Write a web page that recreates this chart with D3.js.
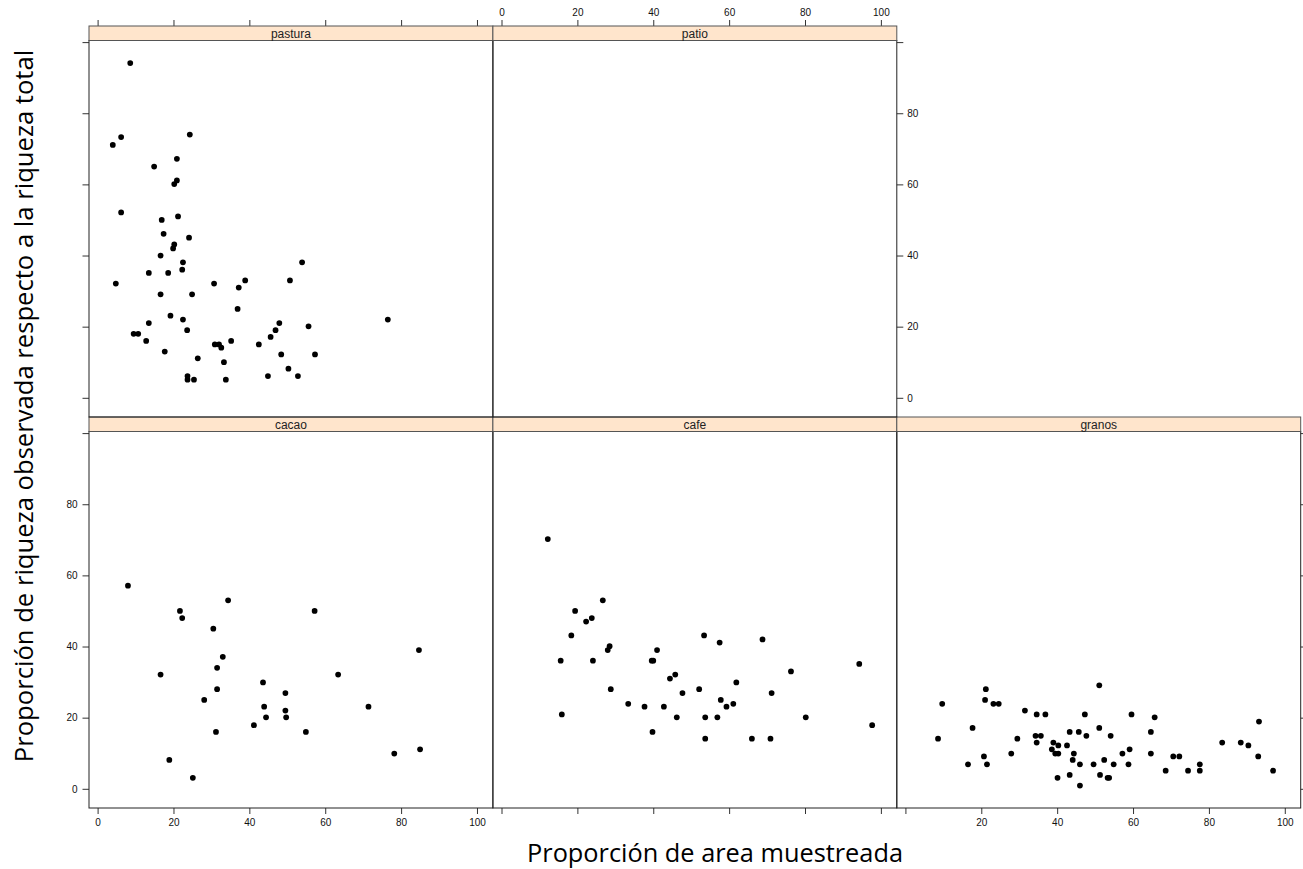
<!DOCTYPE html>
<html>
<head>
<meta charset="utf-8">
<script src="https://d3js.org/d3.v7.min.js"></script>
<style>
  body { margin: 0; background: #fff; }
  svg { display: block; }
  .tick text { font-family: "Liberation Sans", Arial, sans-serif; font-size: 10px; fill: #111; }
  .tick line { stroke: #333; }
</style>
</head>
<body>
<div class="vis"></div>
<script>
  // panels, in lattice order (bottom row first)
  var panelNames = ["cacao", "cafe", "granos", "pastura", "patio"];

  var pasturaX = [8.6, 6.2, 4.0, 24.3, 20.9, 14.9, 20.9, 20.2, 6.2, 21.2, 16.9, 17.4, 24.1, 20.2, 19.9,
    16.6, 22.5, 53.9, 13.5, 18.6, 22.3, 4.8, 30.7, 38.9, 37.2, 50.7, 16.6, 24.9, 36.9, 19.2, 22.5,
    76.5, 13.5, 47.9, 55.6, 9.5, 10.7, 23.6, 46.9, 45.6, 12.8, 35.2, 30.9, 32.0, 32.6, 42.5, 17.7,
    48.4, 57.3, 26.4, 33.3, 50.3, 23.7, 44.9, 52.8, 23.7, 25.4, 33.8];
  var pasturaY = [94.1, 73.3, 71.1, 74.0, 67.2, 65.0, 61.1, 60.1, 52.1, 51.0, 50.0, 46.1, 45.0, 43.1, 42.0,
    40.0, 38.1, 38.1, 35.1, 35.1, 36.0, 32.1, 32.1, 33.0, 31.0, 33.0, 29.1, 29.1, 25.0, 23.1, 22.0,
    22.0, 21.0, 21.0, 20.1, 18.0, 18.0, 19.0, 19.0, 17.1, 16.0, 16.0, 15.0, 15.0, 14.1, 15.0, 13.0,
    12.2, 12.2, 11.1, 10.0, 8.2, 6.1, 6.1, 6.1, 5.1, 5.1, 5.1];

  var patioX = [];
  var patioY = [];

  var cacaoX = [8.0, 34.4, 21.7, 57.2, 22.3, 30.5, 84.7, 33.0, 16.6, 63.4, 31.5, 43.6, 31.5, 49.5,
    28.1, 43.9, 71.4, 49.5, 44.4, 49.7, 41.2, 31.2, 54.9, 85.0, 78.2, 18.9, 25.1];
  var cacaoY = [57.1, 53.0, 50.0, 50.0, 48.0, 45.0, 39.0, 37.1, 32.1, 32.1, 34.0, 29.9, 28.0, 26.9,
    25.0, 23.1, 23.1, 22.0, 20.1, 20.1, 17.9, 16.0, 16.0, 11.1, 9.9, 8.1, 3.1];

  var cafeX = [12.2, 26.7, 19.4, 23.8, 22.3, 18.4, 53.4, 68.8, 57.5, 28.5, 28.0, 41.0, 15.6, 24.1,
    39.6, 40.0, 94.3, 76.3, 45.8, 44.4, 61.9, 28.8, 52.1, 47.7, 71.2, 33.4, 57.8, 61.1, 37.7, 42.8,
    59.3, 15.9, 46.2, 53.7, 56.9, 80.2, 97.7, 39.8, 53.7, 66.0, 70.9];
  var cafeY = [70.2, 53.0, 50.0, 48.0, 47.0, 43.1, 43.1, 42.0, 41.1, 40.1, 39.0, 39.0, 36.0, 36.0,
    36.0, 36.0, 35.1, 33.0, 32.1, 31.0, 29.9, 28.0, 28.0, 26.9, 26.9, 23.9, 25.0, 23.9, 23.1, 23.1,
    23.1, 20.9, 20.1, 20.1, 20.1, 20.1, 17.9, 16.0, 14.1, 14.1, 14.1];

  var granosX = [51.1, 21.2, 9.7, 21.0, 23.2, 24.6, 31.5, 34.6, 36.9, 47.3, 59.6, 65.7, 93.2, 17.7,
    51.1, 8.6, 29.5, 34.3, 35.7, 43.3, 45.7, 47.7, 54.1, 64.7, 34.6, 39.0, 40.3, 42.6, 83.5, 88.4,
    90.4, 38.6, 59.1, 27.9, 39.5, 40.3, 44.4, 57.2, 64.7, 20.7, 70.6, 72.2, 93.0, 44.1, 52.4, 16.5,
    21.5, 46.0, 49.6, 54.9, 58.8, 77.6, 68.6, 74.5, 77.6, 96.9, 43.3, 51.3, 40.1, 53.3, 53.7, 46.0];
  var granosY = [29.1, 28.0, 23.9, 25.0, 23.9, 23.9, 22.0, 20.9, 20.9, 20.9, 20.9, 20.1, 18.9, 17.1,
    17.1, 14.1, 14.1, 14.9, 14.9, 16.0, 16.0, 14.9, 14.9, 16.0, 13.0, 13.0, 12.2, 12.2, 13.0, 13.0,
    12.2, 11.1, 11.1, 9.9, 9.9, 9.9, 9.9, 9.9, 9.9, 9.1, 9.1, 9.1, 9.1, 8.1, 8.1, 6.9,
    6.9, 6.9, 6.9, 6.9, 6.9, 6.9, 5.1, 5.1, 5.1, 5.1, 3.9, 3.9, 3.1, 3.1, 3.1, 0.9];

  var xTicks = [0, 20, 40, 60, 80, 100];
  var yTicks = [0, 20, 40, 60, 80, 100];

  var xTitle = "Proporción de area muestreada";
  var yTitle = "Proporción de riqueza observada respecto a la riqueza total";

  var seriesX = { pastura: pasturaX, patio: patioX, cacao: cacaoX, cafe: cafeX, granos: granosX };
  var seriesY = { pastura: pasturaY, patio: patioY, cacao: cacaoY, cafe: cafeY, granos: granosY };

  // layout
  var width = 1303, height = 869;
  var left0 = 89, panelW = 403.9;
  var stripH = 14.5, panelH = 376.5;
  var rowTop = [417, 26]; // strip top, row 0 = bottom row, row 1 = top row

  var svg = d3.select('.vis').append('svg')
    .attr('width', width)
    .attr('height', height);

  var x = d3.scaleLinear().domain([-8.6 / 3.79, 100 + 15.9 / 3.79]).range([0, panelW]);
  var y = d3.scaleLinear().domain([-19.2 / 3.557, 100 + 1.6 / 3.557]).range([panelH, 0]);

  // small filled diamond-ish marker, like pch 16 at low res
  var marker = d3.symbol().type(d3.symbolCircle).size(26);

  panelNames.forEach(function (name, i) {
    var col = i % 3, row = Math.floor(i / 3);
    var px = left0 + col * panelW;
    var sy = rowTop[row];
    var py = sy + stripH;

    var g = svg.append('g').attr('transform', 'translate(' + px + ',' + py + ')');

    // axes (lattice alternating)
    var noLab = function () { return ''; };

    // left side
    if (col === 0) {
      g.append('g')
        .call(d3.axisLeft(y).tickValues(yTicks).tickSize(6.5).tickPadding(5)
          .tickFormat(row === 0 ? function (d) { return d === 100 ? '' : d; } : noLab))
        .call(function (a) { a.select('.domain').remove(); });
    }
    // right side
    if (name === 'patio' || name === 'granos') {
      g.append('g').attr('transform', 'translate(' + panelW + ',0)')
        .call(d3.axisRight(y).tickValues(yTicks).tickSize(6.5).tickPadding(4)
          .tickFormat(name === 'patio' ? function (d) { return d === 100 ? '' : d; } : noLab))
        .call(function (a) { a.select('.domain').remove(); });
    }
    // top side
    if (row === 1) {
      g.append('g').attr('transform', 'translate(0,' + (-stripH) + ')')
        .call(d3.axisTop(x).tickValues(xTicks).tickSize(6).tickPadding(4)
          .tickFormat(name === 'patio' ? null : noLab))
        .call(function (a) { a.select('.domain').remove(); });
    }
    // bottom side
    if (row === 0) {
      g.append('g').attr('transform', 'translate(0,' + panelH + ')')
        .call(d3.axisBottom(x).tickValues(xTicks).tickSize(6).tickPadding(5)
          .tickFormat(name === 'cacao' ? null : (name === 'granos' ? function (d) { return d === 0 ? '' : d; } : noLab)))
        .call(function (a) { a.select('.domain').remove(); });
    }

    // strip
    svg.append('rect')
      .attr('x', px).attr('y', sy)
      .attr('width', panelW).attr('height', stripH)
      .attr('fill', '#ffe5cc')
      .attr('stroke', '#555').attr('stroke-width', 1);
    svg.append('text')
      .attr('x', px + panelW / 2).attr('y', sy + stripH - 2.5)
      .attr('text-anchor', 'middle')
      .style('font-family', '"Liberation Sans", Arial, sans-serif')
      .style('font-size', '12px')
      .attr('fill', '#222')
      .text(name);

    // panel border
    g.append('rect')
      .attr('width', panelW).attr('height', panelH)
      .attr('fill', 'none')
      .attr('stroke', '#222').attr('stroke-width', 1);

    // points
    var xs = seriesX[name], ys = seriesY[name];
    g.selectAll('path.pt')
      .data(xs.map(function (v, k) { return [v, ys[k]]; }))
      .enter()
      .append('path')
      .attr('class', 'pt')
      .attr('d', marker)
      .attr('transform', function (d) { return 'translate(' + x(d[0]) + ',' + y(d[1]) + ')'; })
      .attr('fill', '#000');
  });

  // titles, sized to fit measured span
  function fitText(sel, target) {
    var len = sel.node().getComputedTextLength();
    var fs = parseFloat(sel.style('font-size'));
    sel.style('font-size', (fs * target / len) + 'px');
  }

  var xt = svg.append('text')
    .attr('x', 715).attr('y', 862)
    .attr('text-anchor', 'middle')
    .style('font-family', '"Open Sans", "Noto Sans", sans-serif')
    .style('font-size', '24px')
    .attr('fill', '#000')
    .text(xTitle);
  fitText(xt, 376);

  var yt = svg.append('text')
    .attr('transform', 'translate(32.5,406) rotate(-90)')
    .attr('text-anchor', 'middle')
    .style('font-family', '"Open Sans", "Noto Sans", sans-serif')
    .style('font-size', '24px')
    .attr('fill', '#000')
    .text(yTitle);
  fitText(yt, 713);
</script>
</body>
</html>
